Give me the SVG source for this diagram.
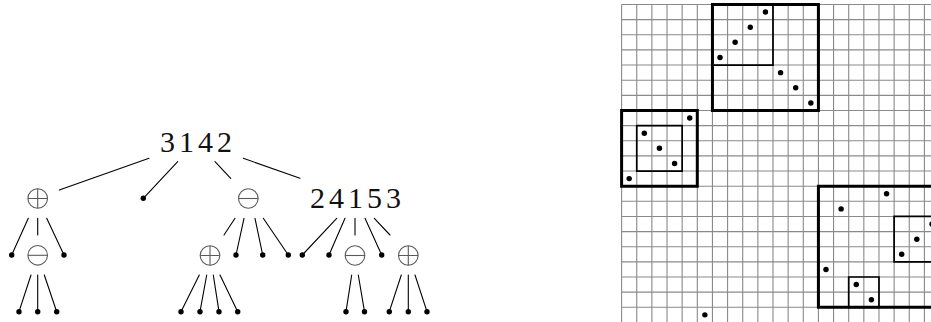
<svg xmlns="http://www.w3.org/2000/svg" width="931" height="322" viewBox="0 0 931 322">
<style>
.lbl{font-family:"Liberation Serif","DejaVu Serif",serif;font-size:30px;letter-spacing:4px;fill:#111}
.opc{fill:#fff;stroke:#5a5a5a;stroke-width:1.1}
.opx{stroke:#5a5a5a;stroke-width:1.1;fill:none}
.edge{stroke:#000;stroke-width:1.1;fill:none;stroke-linecap:round}
.leaf{fill:#000}
.gl{stroke:#8a8a8a;stroke-width:1.1;fill:none;vector-effect:non-scaling-stroke}
.thick{stroke:#000;stroke-width:3;fill:none;vector-effect:non-scaling-stroke}
.thin{stroke:#000;stroke-width:1.7;fill:none;vector-effect:non-scaling-stroke}
</style>
<rect width="931" height="322" fill="#fff"/>
<g id="tree">
<g id="connectors">
<path class="edge" d="M149 158.3L59.3 190M177.7 161.7L143.3 198.3M215 161.7L230.7 178.3M243.3 158.3L300 178.3
M28.3 218.3L11.7 255M37.7 218.3V235M46.7 218.3L64 255
M31 275L19 311.7M37.7 275V311.7M44.3 275L56.7 311.7
M235 218.3L224 235M244 218.3L236 255M255 218.3L262.7 255M263.3 218.3L288.3 255
M199.3 275L181 311.7M206.7 275L200 311.7M213.3 275L219 311.7M220 275L237.7 311.7
M336.7 218.3L302.3 255M345 218.3L329 255M355 218.3V235M365 218.3L381.7 255M374.3 218.3L390 235
M351.7 275L346 311.7M358.3 275L364.5 311.7
M401.3 275L389.3 311.7M408.3 275V311.7M415 275L427 311.7"/>
</g>
<g id="n3142"><text class="lbl" x="160" y="151.7">3142</text></g>
<g id="n24153"><text class="lbl" x="310" y="208.3">24153</text></g>
<g id="op1" transform="translate(37.7 198.5)"><circle class="opc" r="9.8"/><path class="opx" d="M-9.8 0H9.8M0 -9.8V9.8"/></g>
<g id="op2" transform="translate(248.3 198.5)"><circle class="opc" r="9.8"/><path class="opx" d="M-9.8 0H9.8"/></g>
<g id="op3" transform="translate(37.7 255.3)"><circle class="opc" r="9.8"/><path class="opx" d="M-9.8 0H9.8"/></g>
<g id="op4" transform="translate(210 255.5)"><circle class="opc" r="9.8"/><path class="opx" d="M-9.8 0H9.8M0 -9.8V9.8"/></g>
<g id="op5" transform="translate(355 255.5)"><circle class="opc" r="9.8"/><path class="opx" d="M-9.8 0H9.8"/></g>
<g id="op6" transform="translate(408.3 255.5)"><circle class="opc" r="9.8"/><path class="opx" d="M-9.8 0H9.8M0 -9.8V9.8"/></g>
<g id="leaves" class="leaf">
<circle cx="143.3" cy="198.3" r="2.7"/>
<circle cx="11.7" cy="255" r="2.7"/><circle cx="64" cy="255" r="2.7"/>
<circle cx="236" cy="255" r="2.7"/><circle cx="262.7" cy="255" r="2.7"/><circle cx="288.3" cy="255" r="2.7"/>
<circle cx="302.3" cy="255" r="2.7"/><circle cx="329" cy="255" r="2.7"/><circle cx="381.7" cy="255" r="2.7"/>
<circle cx="19" cy="311.7" r="2.7"/><circle cx="37.7" cy="311.7" r="2.7"/><circle cx="56.7" cy="311.7" r="2.7"/>
<circle cx="181" cy="311.7" r="2.7"/><circle cx="200" cy="311.7" r="2.7"/><circle cx="219" cy="311.7" r="2.7"/><circle cx="237.7" cy="311.7" r="2.7"/>
<circle cx="346" cy="311.7" r="2.7"/><circle cx="364.5" cy="311.7" r="2.7"/>
<circle cx="389.3" cy="311.7" r="2.7"/><circle cx="408.3" cy="311.7" r="2.7"/><circle cx="427" cy="311.7" r="2.7"/>
</g>
</g>
<g id="plot" transform="translate(621.6 4.5) scale(15.14)">
<path class="gl" d="M0 0V21M1 0V21M2 0V21M3 0V21M4 0V21M5 0V21M6 0V21M7 0V21M8 0V21M9 0V21M10 0V21M11 0V21M12 0V21M13 0V21M14 0V21M15 0V21M16 0V21M17 0V21M18 0V21M19 0V21M20 0V21M21 0V21
M0 0H21M0 1H21M0 2H21M0 3H21M0 4H21M0 5H21M0 6H21M0 7H21M0 8H21M0 9H21M0 10H21M0 11H21M0 12H21M0 13H21M0 14H21M0 15H21M0 16H21M0 17H21M0 18H21M0 19H21M0 20H21M0 21H21"/>
<rect class="thick" x="6" y="0" width="7" height="7"/>
<rect class="thin" x="6" y="0" width="4" height="4"/>
<rect class="thick" x="0" y="7" width="5" height="5"/>
<rect class="thin" x="1" y="8" width="3" height="3"/>
<rect class="thick" x="13" y="12" width="8" height="8"/>
<rect class="thin" x="18" y="14" width="3" height="3"/>
<rect class="thin" x="15" y="18" width="2" height="2"/>
<g class="leaf">
<circle cx="9.5" cy="0.5" r="0.18"/><circle cx="8.5" cy="1.5" r="0.18"/><circle cx="7.5" cy="2.5" r="0.18"/><circle cx="6.5" cy="3.5" r="0.18"/>
<circle cx="10.5" cy="4.5" r="0.18"/><circle cx="11.5" cy="5.5" r="0.18"/><circle cx="12.5" cy="6.5" r="0.18"/><circle cx="4.5" cy="7.5" r="0.18"/>
<circle cx="1.5" cy="8.5" r="0.18"/><circle cx="2.5" cy="9.5" r="0.18"/><circle cx="3.5" cy="10.5" r="0.18"/><circle cx="0.5" cy="11.5" r="0.18"/>
<circle cx="17.5" cy="12.5" r="0.18"/><circle cx="14.5" cy="13.5" r="0.18"/><circle cx="20.5" cy="14.5" r="0.18"/><circle cx="19.5" cy="15.5" r="0.18"/>
<circle cx="18.5" cy="16.5" r="0.18"/><circle cx="13.5" cy="17.5" r="0.18"/><circle cx="15.5" cy="18.5" r="0.18"/><circle cx="16.5" cy="19.5" r="0.18"/>
<circle cx="5.5" cy="20.5" r="0.18"/>
</g>
</g>
</svg>
